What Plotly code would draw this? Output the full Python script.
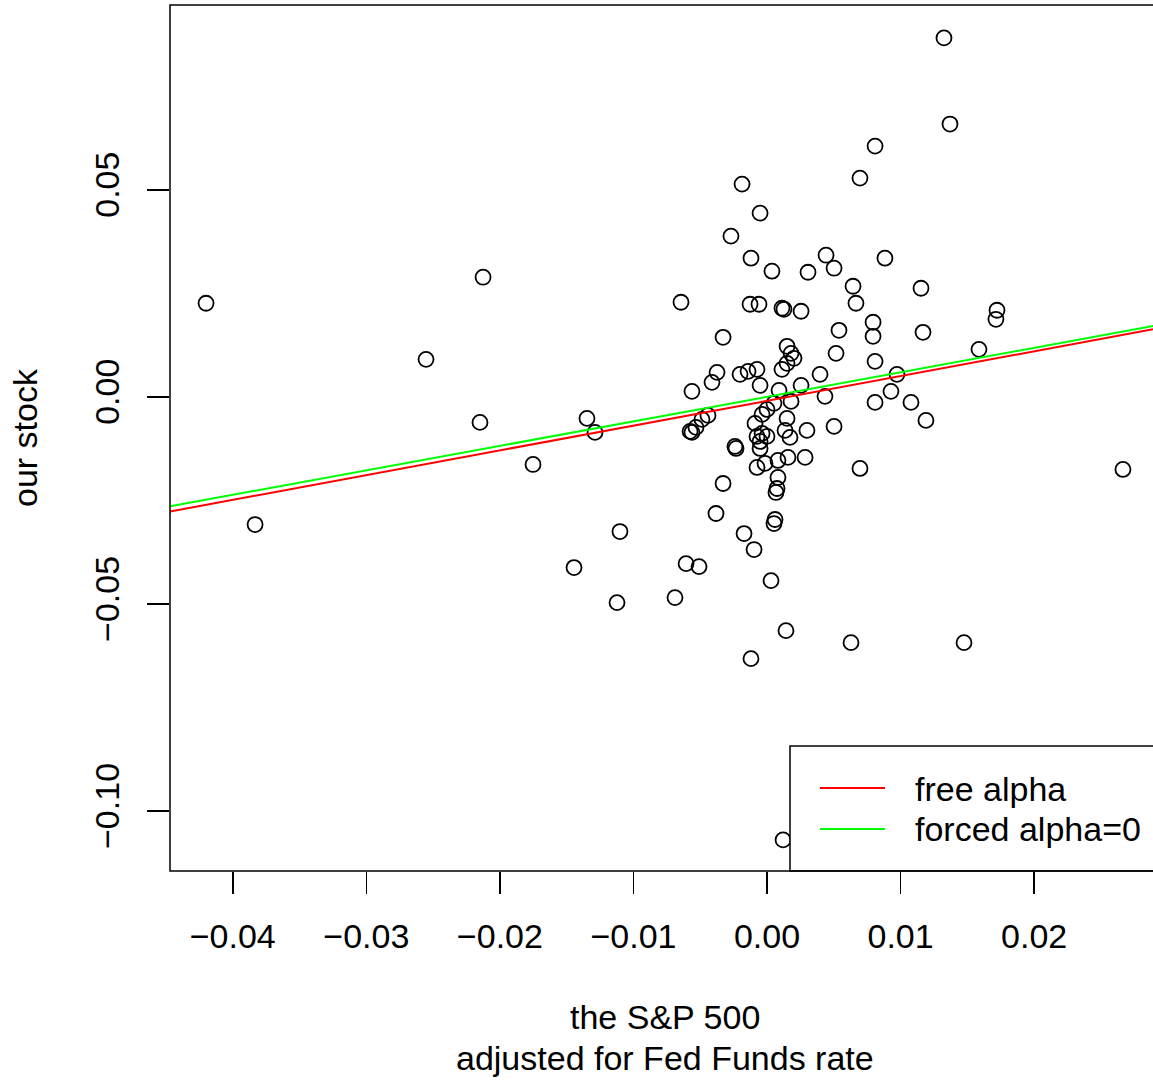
import plotly.graph_objects as go

# S&P 500 excess return (x) vs our stock excess return (y)
sp500 = [
    -0.04200, -0.03833, -0.02553, -0.02126, -0.02149, -0.01752, -0.01445, -0.01348, -0.01288, -0.01123,
    -0.01101, -0.00689, -0.00644, -0.00606, -0.00509, 0.02665, 0.01325, 0.01370, 0.00809, 0.00696,
    0.01475, 0.00629, 0.00120, -0.00120, 0.00142, 0.00030, 0.01153, 0.01168, 0.01722, 0.01714,
    0.01587, 0.01190, 0.01078, 0.00973, 0.00928, 0.00809, 0.00809, 0.00794, 0.00794, 0.00696,
    0.00666, 0.00644, 0.00883, 0.00502, 0.00539, 0.00517, 0.00442, 0.00502, 0.00307, 0.00255,
    0.00112, 0.00127, 0.00037, -0.00052, -0.00187, -0.00270, -0.00120, -0.00127, -0.00060, -0.00329,
    0.00150, 0.00180, 0.00202, 0.00150, 0.00112, -0.00374, -0.00412, -0.00562, -0.00202, -0.00142,
    -0.00075, -0.00052, 0.00090, 0.00255, 0.00397, 0.00434, 0.00180, 0.00052, 0.00000, -0.00037,
    0.00150, -0.00090, 0.00135, 0.00172, 0.00299, -0.00075, -0.00037, 0.00000, -0.00052, -0.00240,
    -0.00232, -0.00052, -0.00075, -0.00015, 0.00082, 0.00157, 0.00285, 0.00082, -0.00329, 0.00075,
    0.00067, -0.00382, 0.00060, 0.00052, -0.00172, -0.00097, -0.00442, -0.00487, -0.00532, -0.00576,
    -0.00562,
]
stock = [
    0.02260, -0.03082, 0.00906, 0.02889, -0.00616, -0.01632, -0.04121, -0.00520, -0.00858, -0.04967,
    -0.03251, -0.04846, 0.02284, -0.04025, -0.04097, -0.01752, 0.08666, 0.06587, 0.06055, 0.05282,
    -0.05934, -0.05934, -0.10696, -0.06321, -0.05644, -0.04436, 0.02623, 0.01559, 0.02091, 0.01873,
    0.01148, -0.00568, -0.00133, 0.00544, 0.00133, -0.00133, 0.00858, 0.01462, 0.01801, -0.01728,
    0.02260, 0.02671, 0.03348, -0.00713, 0.01607, 0.01051, 0.03420, 0.03106, 0.03009, 0.02067,
    0.02139, 0.02115, 0.03034, 0.04436, 0.05137, 0.03880, 0.03348, 0.02236, 0.02236, 0.01438,
    0.01221, 0.01051, 0.00931, 0.00810, 0.00665, 0.00592, 0.00350, 0.00133, 0.00544, 0.00616,
    0.00665, 0.00278, 0.00157, 0.00278, 0.00544, 0.00012, -0.00109, -0.00157, -0.00302, -0.00423,
    -0.00520, -0.00641, -0.00810, -0.00979, -0.00810, -0.00955, -0.00882, -0.00955, -0.01076, -0.01197,
    -0.01245, -0.01245, -0.01704, -0.01607, -0.01535, -0.01462, -0.01462, -0.01946, -0.02091, -0.02212,
    -0.02308, -0.02816, -0.02961, -0.03058, -0.03300, -0.03686, -0.00447, -0.00544, -0.00737, -0.00834,
    -0.00858,
]

# fitted regression coefficients
free_alpha, free_beta = -0.00096, 0.5978
forced_alpha, forced_beta = 0.0, 0.5912

x_ticks = [-0.04, -0.03, -0.02, -0.01, 0.00, 0.01, 0.02]
x_ticklabels = ["\u22120.04", "\u22120.03", "\u22120.02", "\u22120.01", "0.00", "0.01", "0.02"]
y_ticks = [-0.10, -0.05, 0.00, 0.05]
y_ticklabels = ["\u22120.10", "\u22120.05", "0.00", "0.05"]

legend_labels = ["free alpha", "forced alpha=0"]
legend_colors = ["#FF0000", "#00FF00"]

x_range = [-0.04470, 0.02890]
y_range = [-0.11447, 0.09461]

FONT = "Liberation Sans, Arial, Helvetica, sans-serif"
FS = 34

fig = go.Figure()
fig.add_trace(go.Scatter(
    x=sp500, y=stock, mode="markers",
    marker=dict(symbol="circle-open", size=15, color="black", line=dict(width=1.8, color="black")),
    showlegend=False, hoverinfo="skip",
))
fig.add_trace(go.Scatter(
    x=x_range, y=[free_alpha + free_beta * v for v in x_range], mode="lines",
    line=dict(color=legend_colors[0], width=2), showlegend=False, hoverinfo="skip",
))
fig.add_trace(go.Scatter(
    x=x_range, y=[forced_alpha + forced_beta * v for v in x_range], mode="lines",
    line=dict(color=legend_colors[1], width=2), showlegend=False, hoverinfo="skip",
))

W, H = 1153, 1082
L, R, T, B = 170, 0, 5, 211
pw, ph = W - L - R, H - T - B

def px(xp):
    return (xp - L) / pw

def py(yp):
    return (H - B - yp) / ph

fig.update_layout(
    width=W, height=H,
    margin=dict(l=L, r=R, t=T, b=B),
    paper_bgcolor="white", plot_bgcolor="white",
    font=dict(family=FONT, size=FS, color="black"),
    xaxis=dict(range=x_range, tickvals=x_ticks, ticktext=x_ticklabels,
               ticks="outside", ticklen=22, tickwidth=1.5, tickcolor="black",
               showgrid=False, zeroline=False, showline=False,
               tickfont=dict(family=FONT, size=FS), ticklabelstandoff=13),
    yaxis=dict(range=y_range, tickvals=y_ticks, ticktext=y_ticklabels,
               ticks="outside", ticklen=22, tickwidth=1.5, tickcolor="black",
               showgrid=False, zeroline=False, showline=False, tickangle=-90,
               tickfont=dict(family=FONT, size=FS), ticklabelstandoff=14),
    showlegend=False,
    hovermode=False,
)

shapes = [
    # legend background box (opaque, drawn over the points)
    dict(type="rect", xref="paper", yref="paper", x0=px(790), x1=1.05, y0=0, y1=py(746),
         fillcolor="white", line=dict(color="black", width=1.5), layer="above"),
    dict(type="line", xref="paper", yref="paper", x0=px(820), x1=px(885), y0=py(788), y1=py(788),
         line=dict(color=legend_colors[0], width=2), layer="above"),
    dict(type="line", xref="paper", yref="paper", x0=px(820), x1=px(885), y0=py(829), y1=py(829),
         line=dict(color=legend_colors[1], width=2), layer="above"),
    # plot box
    dict(type="rect", xref="paper", yref="paper", x0=0, x1=1.05, y0=0, y1=1,
         line=dict(color="black", width=1.5), layer="above"),
]
fig.update_layout(shapes=shapes)

annotations = [
    dict(text=legend_labels[0], xref="paper", yref="paper", x=px(913), y=py(789),
         xanchor="left", yanchor="middle", showarrow=False, font=dict(family=FONT, size=FS)),
    dict(text=legend_labels[1], xref="paper", yref="paper", x=px(913), y=py(829),
         xanchor="left", yanchor="middle", showarrow=False, font=dict(family=FONT, size=FS)),
    dict(text="the S&P 500", xref="paper", yref="paper", x=px(665), y=py(1017),
         xanchor="center", yanchor="middle", showarrow=False, font=dict(family=FONT, size=FS)),
    dict(text="adjusted for Fed Funds rate", xref="paper", yref="paper", x=px(665), y=py(1058),
         xanchor="center", yanchor="middle", showarrow=False, font=dict(family=FONT, size=FS)),
    dict(text="our stock", xref="paper", yref="paper", x=px(25), y=py(438),
         xanchor="center", yanchor="middle", textangle=-90, showarrow=False,
         font=dict(family=FONT, size=FS)),
]
fig.update_layout(annotations=annotations)

fig.write_html(
    "out.html",
    config={"displayModeBar": False, "staticPlot": True},
    post_script="document.body.style.margin='0';document.body.style.padding='0';"
                "document.body.style.overflow='hidden';",
)
